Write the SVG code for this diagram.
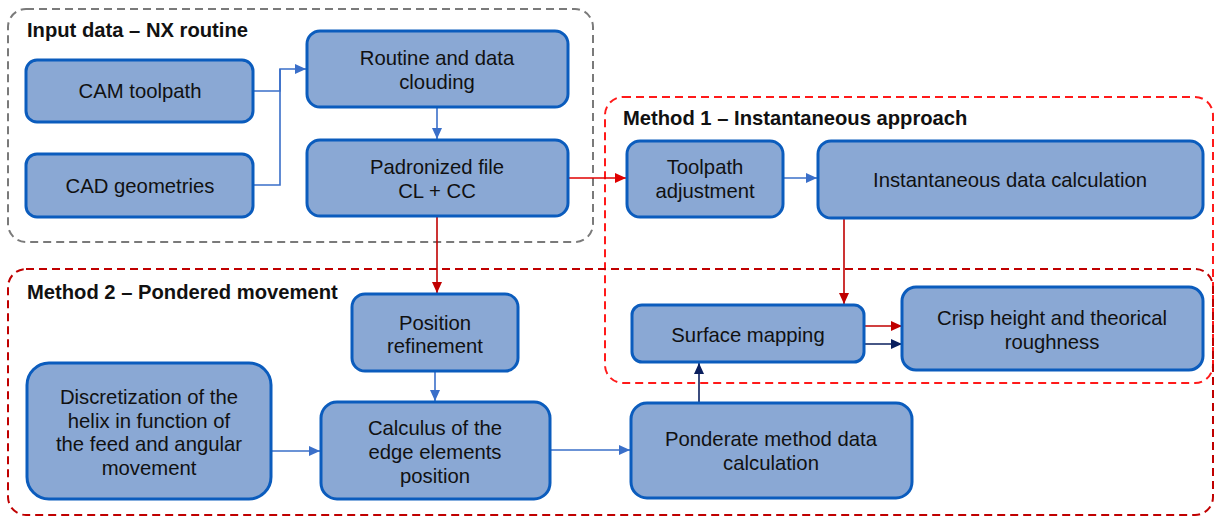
<svg xmlns="http://www.w3.org/2000/svg" width="1215" height="517" viewBox="0 0 1215 517">
<style>
.grp{fill:none;stroke-width:2;stroke-dasharray:8 5}
.box{fill:#8AA8D4;stroke:#0B5CBD;stroke-width:3}
.t{font-family:"Liberation Sans",Arial,sans-serif;font-size:20.3px;fill:#111;text-anchor:middle}
.title{font-family:"Liberation Sans",Arial,sans-serif;font-size:20.2px;font-weight:bold;fill:#111}
.c{fill:none;stroke-width:1.6}
</style>
<defs>
<marker id="aB" markerUnits="userSpaceOnUse" markerWidth="12" markerHeight="10" refX="11" refY="5" orient="auto"><path d="M0,0 L11,5 L0,10 z" fill="#3A6FC9"/></marker>
<marker id="aR" markerUnits="userSpaceOnUse" markerWidth="12" markerHeight="10" refX="11" refY="5" orient="auto"><path d="M0,0 L11,5 L0,10 z" fill="#C00000"/></marker>
<marker id="aRb" markerUnits="userSpaceOnUse" markerWidth="12" markerHeight="10" refX="11" refY="5" orient="auto"><path d="M0,0 L11,5 L0,10 z" fill="#E00000"/></marker>
<marker id="aN" markerUnits="userSpaceOnUse" markerWidth="12" markerHeight="10" refX="11" refY="5" orient="auto"><path d="M0,0 L11,5 L0,10 z" fill="#0A1F5E"/></marker>
</defs>

<g id="group-input">
<rect class="grp" x="8" y="9" width="585" height="233" rx="18" stroke="#7A7A7A"/>
<text class="title" x="27" y="37">Input data – NX routine</text>
</g>
<g id="group-method1">
<rect class="grp" x="605" y="97" width="608" height="286" rx="18" stroke="#FF1A1A"/>
<text class="title" x="623" y="125">Method 1 – Instantaneous approach</text>
</g>
<g id="group-method2">
<rect class="grp" x="8" y="269" width="1205" height="246" rx="18" stroke="#C00000"/>
<text class="title" x="27" y="299">Method 2 – Pondered movement</text>
</g>

<g id="connectors">
<polyline class="c" points="253,91 280,91 280,69 306,69" stroke="#3A6FC9" marker-end="url(#aB)"/>
<polyline class="c" points="253,185 280,185 280,69" stroke="#3A6FC9"/>
<line class="c" x1="437" y1="107" x2="437" y2="139" stroke="#3A6FC9" marker-end="url(#aB)"/>
<line class="c" x1="568" y1="178" x2="626" y2="178" stroke="#E00000" marker-end="url(#aRb)"/>
<line class="c" x1="783" y1="178" x2="817" y2="178" stroke="#3A6FC9" marker-end="url(#aB)"/>
<line class="c" x1="844" y1="218" x2="844" y2="304" stroke="#C00000" marker-end="url(#aR)"/>
<line class="c" x1="437" y1="216" x2="437" y2="293" stroke="#C00000" marker-end="url(#aR)"/>
<line class="c" x1="435" y1="371" x2="435" y2="401" stroke="#3A6FC9" marker-end="url(#aB)"/>
<line class="c" x1="271" y1="451" x2="320" y2="451" stroke="#3A6FC9" marker-end="url(#aB)"/>
<line class="c" x1="550" y1="450" x2="630" y2="450" stroke="#3A6FC9" marker-end="url(#aB)"/>
<line class="c" x1="699" y1="403" x2="699" y2="363" stroke="#0A1F5E" marker-end="url(#aN)"/>
<line class="c" x1="864" y1="326" x2="902" y2="326" stroke="#C00000" marker-end="url(#aR)"/>
<line class="c" x1="864" y1="344" x2="902" y2="344" stroke="#0A1F5E" marker-end="url(#aN)"/>
</g>

<g id="cam">
<rect class="box" x="26" y="60" width="227" height="62" rx="11"/>
<text class="t" x="140" y="98">CAM toolpath</text>
</g>
<g id="cad">
<rect class="box" x="26" y="154" width="227" height="63" rx="11"/>
<text class="t" x="140" y="193">CAD geometries</text>
</g>
<g id="routine">
<rect class="box" x="307" y="31" width="261" height="76" rx="13"/>
<text class="t" x="437" y="65">Routine and data</text>
<text class="t" x="437" y="89">clouding</text>
</g>
<g id="padronized">
<rect class="box" x="307" y="140" width="261" height="76" rx="13"/>
<text class="t" x="437" y="174">Padronized file</text>
<text class="t" x="437" y="198">CL + CC</text>
</g>
<g id="toolpath">
<rect class="box" x="627" y="141" width="156" height="76" rx="13"/>
<text class="t" x="705" y="174">Toolpath</text>
<text class="t" x="705" y="198">adjustment</text>
</g>
<g id="instantaneous">
<rect class="box" x="818" y="141" width="385" height="77" rx="13"/>
<text class="t" x="1010" y="187">Instantaneous data calculation</text>
</g>
<g id="position">
<rect class="box" x="352" y="294" width="166" height="77" rx="13"/>
<text class="t" x="435" y="330">Position</text>
<text class="t" x="435" y="353">refinement</text>
</g>
<g id="surface">
<rect class="box" x="632" y="305" width="232" height="57" rx="10"/>
<text class="t" x="748" y="342">Surface mapping</text>
</g>
<g id="crisp">
<rect class="box" x="902" y="287" width="301" height="83" rx="14"/>
<text class="t" x="1052" y="325">Crisp height and theorical</text>
<text class="t" x="1052" y="349">roughness</text>
</g>
<g id="discretization">
<rect class="box" x="27" y="363" width="244" height="136" rx="22"/>
<text class="t" x="149" y="404">Discretization of the</text>
<text class="t" x="149" y="428">helix in function of</text>
<text class="t" x="149" y="451">the feed and angular</text>
<text class="t" x="149" y="475">movement</text>
</g>
<g id="calculus">
<rect class="box" x="321" y="402" width="229" height="97" rx="16"/>
<text class="t" x="435" y="435">Calculus of the</text>
<text class="t" x="435" y="459">edge elements</text>
<text class="t" x="435" y="483">position</text>
</g>
<g id="ponderate">
<rect class="box" x="631" y="403" width="281" height="95" rx="16"/>
<text class="t" x="771" y="446">Ponderate method data</text>
<text class="t" x="771" y="470">calculation</text>
</g>
</svg>
